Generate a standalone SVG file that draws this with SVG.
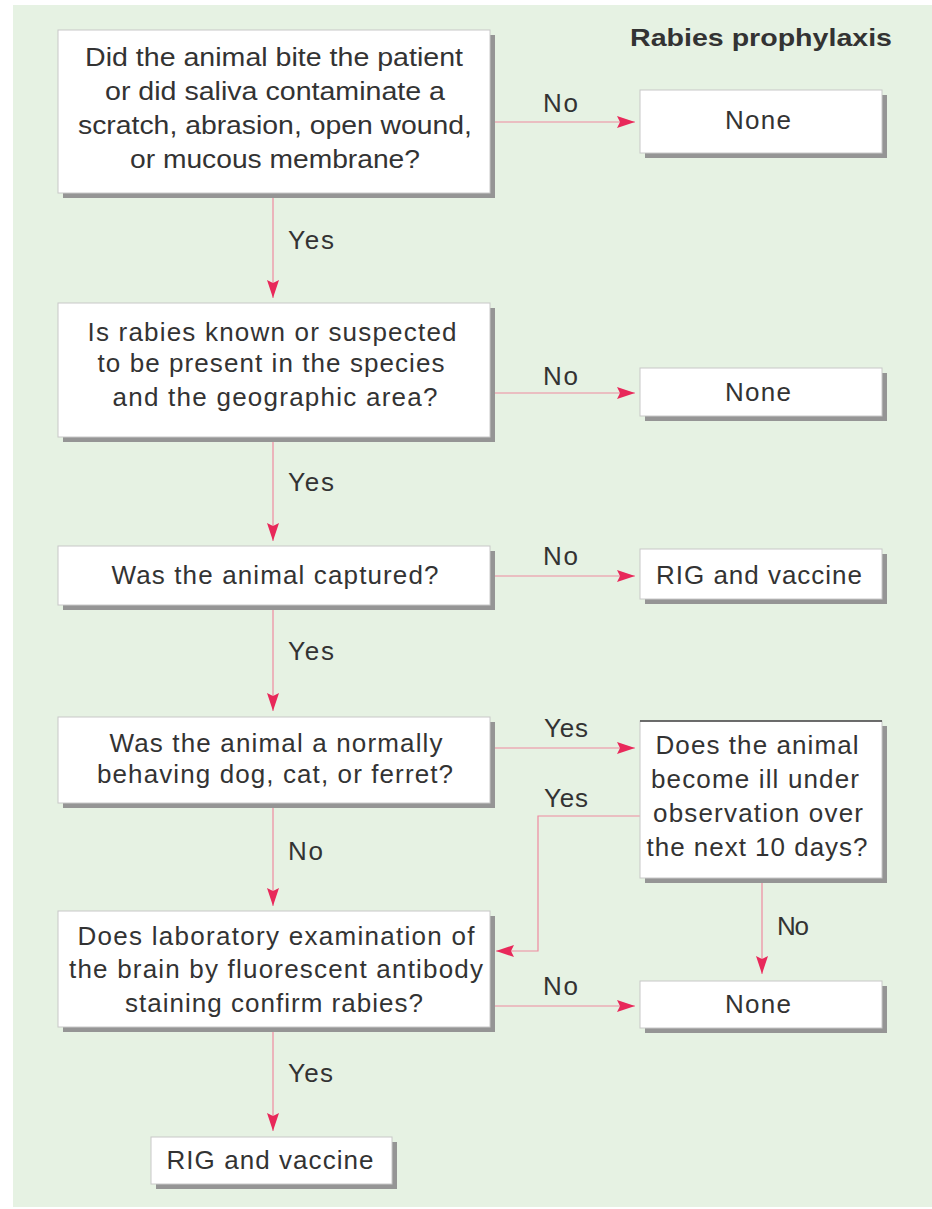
<svg xmlns="http://www.w3.org/2000/svg" width="932" height="1209" viewBox="0 0 932 1209">
<style>
.bg{fill:#e6f2e3}
.box{fill:#ffffff;stroke:#c8c8c8;stroke-width:1}
.sh{fill:#959595}
.t{font-family:"Liberation Sans",Arial,sans-serif;font-size:26px;fill:#333333;text-anchor:middle}
.lbl{font-family:"Liberation Sans",Arial,sans-serif;font-size:26px;fill:#333333}
.ttl{font-family:"Liberation Sans",Arial,sans-serif;font-size:24px;font-weight:bold;fill:#333333}
.ln{fill:none;stroke:#ee8aa0;stroke-width:1.2}
</style>
<defs>
<marker id="ah" viewBox="0 0 18 12" refX="18" refY="6" markerWidth="18" markerHeight="12" markerUnits="userSpaceOnUse" orient="auto">
<path d="M0,0 L18,6 L0,12 L3,6 Z" fill="#e8295a"/>
</marker>
</defs>
<rect class="bg" x="13" y="5" width="919" height="1202"/>
<text class="ttl" x="630" y="46" textLength="262" lengthAdjust="spacingAndGlyphs">Rabies prophylaxis</text>

<g id="connectors">
<line class="ln" x1="490" y1="122" x2="635" y2="122" marker-end="url(#ah)"/>
<line class="ln" x1="273" y1="198" x2="273" y2="298" marker-end="url(#ah)"/>
<line class="ln" x1="490" y1="393" x2="635" y2="393" marker-end="url(#ah)"/>
<line class="ln" x1="273" y1="442" x2="273" y2="541" marker-end="url(#ah)"/>
<line class="ln" x1="490" y1="576" x2="635" y2="576" marker-end="url(#ah)"/>
<line class="ln" x1="273" y1="610" x2="273" y2="711" marker-end="url(#ah)"/>
<line class="ln" x1="490" y1="748" x2="635" y2="748" marker-end="url(#ah)"/>
<polyline class="ln" points="640,816 538,816 538,951 496,951" marker-end="url(#ah)"/>
<line class="ln" x1="273" y1="808" x2="273" y2="906" marker-end="url(#ah)"/>
<line class="ln" x1="762" y1="883" x2="762" y2="974" marker-end="url(#ah)"/>
<line class="ln" x1="490" y1="1006" x2="635" y2="1006" marker-end="url(#ah)"/>
<line class="ln" x1="273" y1="1032" x2="273" y2="1131" marker-end="url(#ah)"/>
<text class="lbl" x="543" y="112" textLength="35">No</text>
<text class="lbl" x="288" y="249" textLength="46">Yes</text>
<text class="lbl" x="543" y="385" textLength="35">No</text>
<text class="lbl" x="288" y="491" textLength="46">Yes</text>
<text class="lbl" x="543" y="565" textLength="35">No</text>
<text class="lbl" x="288" y="660" textLength="46">Yes</text>
<text class="lbl" x="544" y="737" textLength="44">Yes</text>
<text class="lbl" x="544" y="807" textLength="44">Yes</text>
<text class="lbl" x="288" y="860" textLength="35">No</text>
<text class="lbl" x="777" y="935" textLength="32">No</text>
<text class="lbl" x="543" y="995" textLength="35">No</text>
<text class="lbl" x="288" y="1082" textLength="45">Yes</text>
</g>

<g id="q1">
<rect class="sh" x="63" y="35" width="432" height="163"/>
<rect class="box" x="58" y="30" width="432" height="163"/>
<text class="t" x="274" y="66" textLength="378" lengthAdjust="spacingAndGlyphs">Did the animal bite the patient</text>
<text class="t" x="275" y="100" textLength="340" lengthAdjust="spacingAndGlyphs">or did saliva contaminate a</text>
<text class="t" x="275" y="134" textLength="394" lengthAdjust="spacingAndGlyphs">scratch, abrasion, open wound,</text>
<text class="t" x="275" y="168" textLength="290" lengthAdjust="spacingAndGlyphs">or mucous membrane?</text>
</g>

<g id="none1">
<rect class="sh" x="645" y="95" width="242" height="63"/>
<rect class="box" x="640" y="90" width="242" height="63"/>
<text class="t" x="758" y="129" textLength="66">None</text>
</g>

<g id="q2">
<rect class="sh" x="63" y="308" width="432" height="134"/>
<rect class="box" x="58" y="303" width="432" height="134"/>
<text class="t" x="272" y="341" textLength="369">Is rabies known or suspected</text>
<text class="t" x="271" y="372" textLength="347">to be present in the species</text>
<text class="t" x="275" y="406" textLength="325">and the geographic area?</text>
</g>

<g id="none2">
<rect class="sh" x="645" y="373" width="242" height="48"/>
<rect class="box" x="640" y="368" width="242" height="48"/>
<text class="t" x="758" y="401" textLength="66">None</text>
</g>

<g id="q3">
<rect class="sh" x="63" y="551" width="432" height="59"/>
<rect class="box" x="58" y="546" width="432" height="59"/>
<text class="t" x="275" y="584" textLength="327">Was the animal captured?</text>
</g>

<g id="rig1">
<rect class="sh" x="645" y="554" width="242" height="50"/>
<rect class="box" x="640" y="549" width="242" height="50"/>
<text class="t" x="759" y="584" textLength="206">RIG and vaccine</text>
</g>

<g id="q4">
<rect class="sh" x="63" y="722" width="432" height="86"/>
<rect class="box" x="58" y="717" width="432" height="86"/>
<text class="t" x="276" y="752" textLength="333">Was the animal a normally</text>
<text class="t" x="275" y="783" textLength="356">behaving dog, cat, or ferret?</text>
</g>

<g id="q5">
<rect class="sh" x="645" y="726" width="242" height="157"/>
<rect class="box" x="640" y="721" width="242" height="157"/>
<line x1="640" y1="721" x2="882" y2="721" stroke="#444" stroke-width="1.5"/>
<text class="t" x="757" y="754" textLength="203">Does the animal</text>
<text class="t" x="755" y="788" textLength="208">become ill under</text>
<text class="t" x="758" y="822" textLength="210">observation over</text>
<text class="t" x="757" y="856" textLength="221">the next 10 days?</text>
</g>

<g id="q6">
<rect class="sh" x="63" y="916" width="432" height="116"/>
<rect class="box" x="58" y="911" width="432" height="116"/>
<text class="t" x="276" y="945" textLength="397">Does laboratory examination of</text>
<text class="t" x="276" y="978" textLength="414">the brain by fluorescent antibody</text>
<text class="t" x="274" y="1012" textLength="298">staining confirm rabies?</text>
</g>

<g id="none3">
<rect class="sh" x="645" y="986" width="242" height="47"/>
<rect class="box" x="640" y="981" width="242" height="47"/>
<text class="t" x="758" y="1013" textLength="66">None</text>
</g>

<g id="rig2">
<rect class="sh" x="156" y="1142" width="241" height="47"/>
<rect class="box" x="151" y="1137" width="241" height="47"/>
<text class="t" x="270" y="1169" textLength="207">RIG and vaccine</text>
</g>
</svg>
